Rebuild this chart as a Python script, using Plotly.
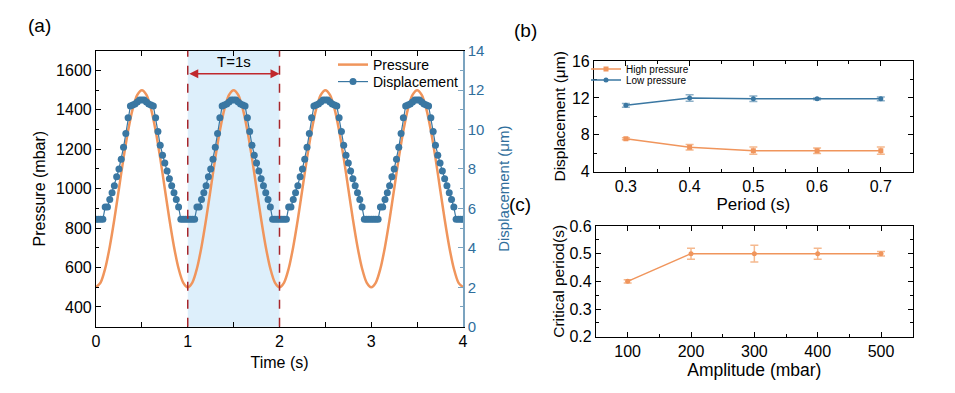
import plotly.graph_objects as go

# ---------------- data ----------------
# panel (a): pressure sampled every 0.05 s (smoothed by spline)
press_t = [round(0.05 * i, 2) for i in range(81)]
p_cycle1 = [500, 524, 595, 706, 845, 1000, 1155, 1294, 1405, 1476,
            1500, 1476, 1405, 1294, 1155, 1000, 845, 706, 595, 524]
p_cycle2 = [500, 524, 595, 706, 845, 1000, 1155, 1294, 1405, 1476,
            1500, 1476, 1405, 1294, 1155, 1000, 845, 706, 595, 524]
p_cycle3 = [500, 524, 595, 706, 845, 1000, 1155, 1294, 1405, 1476,
            1500, 1476, 1405, 1294, 1155, 1000, 845, 706, 595, 524]
p_cycle4 = [500, 524, 595, 706, 845, 1000, 1155, 1294, 1405, 1476,
            1500, 1476, 1405, 1294, 1155, 1000, 845, 706, 595, 524]
p_end = [500]
pressure = p_cycle1 + p_cycle2 + p_cycle3 + p_cycle4 + p_end

# panel (a): displacement sampled every 0.025 s
disp_t = [round(0.025 * i, 3) for i in range(161)]
disp_c1 = [5.45, 5.45, 5.45, 5.45, 6.07, 6.07, 6.45, 6.8, 7.15, 7.6,
           8.0, 8.5, 9.1, 9.8, 10.6, 11.2, 11.25, 11.3, 11.4, 11.5,
           11.5, 11.5, 11.4, 11.3, 11.25, 11.2, 10.6, 9.9, 9.2, 8.7,
           8.3, 7.9, 7.5, 7.15, 6.8, 6.45, 6.07, 5.45, 5.45, 5.45]
disp_c2 = [5.45, 5.45, 5.45, 5.45, 6.07, 6.07, 6.45, 6.8, 7.15, 7.6,
           8.0, 8.5, 9.1, 9.8, 10.6, 11.2, 11.25, 11.3, 11.4, 11.5,
           11.5, 11.5, 11.4, 11.3, 11.25, 11.2, 10.6, 9.9, 9.2, 8.7,
           8.3, 7.9, 7.5, 7.15, 6.8, 6.45, 6.07, 5.45, 5.45, 5.45]
disp_c3 = [5.45, 5.45, 5.45, 5.45, 6.07, 6.07, 6.45, 6.8, 7.15, 7.6,
           8.0, 8.5, 9.1, 9.8, 10.6, 11.2, 11.25, 11.3, 11.4, 11.5,
           11.5, 11.5, 11.4, 11.3, 11.25, 11.2, 10.6, 9.9, 9.2, 8.7,
           8.3, 7.9, 7.5, 7.15, 6.8, 6.45, 6.07, 5.45, 5.45, 5.45]
disp_c4 = [5.45, 5.45, 5.45, 5.45, 6.07, 6.07, 6.45, 6.8, 7.15, 7.6,
           8.0, 8.5, 9.1, 9.8, 10.6, 11.2, 11.25, 11.3, 11.4, 11.5,
           11.5, 11.5, 11.4, 11.3, 11.25, 11.2, 10.6, 9.9, 9.2, 8.7,
           8.3, 7.9, 7.5, 7.15, 6.8, 6.45, 6.07, 5.45, 5.45, 5.45]
disp_end = [5.45]
displacement = disp_c1 + disp_c2 + disp_c3 + disp_c4 + disp_end

# panel (b)
period = [0.3, 0.4, 0.5, 0.6, 0.7]
high_p = [7.57, 6.64, 6.28, 6.28, 6.28]
high_err = [0.1, 0.3, 0.4, 0.3, 0.4]
low_p = [11.2, 12.0, 11.9, 11.9, 11.9]
low_err = [0.2, 0.35, 0.3, 0.1, 0.2]

# panel (c)
amplitude = [100, 200, 300, 400, 500]
crit_period = [0.4, 0.5, 0.5, 0.5, 0.5]
crit_err = [0.006, 0.02, 0.03, 0.02, 0.008]

# ---------------- style ----------------
FONT = "Arial, Liberation Sans, sans-serif"
ORANGE = "#F0955C"
ORANGE_L = "#F5B98F"
BLUE = "#3A77A2"
BLUE_AX = "#2F6E9C"
BLUE_LINE = "#7BA3BF"
DARKRED = "#A8262B"
W, H = 955, 393

fig = go.Figure()

fig.add_trace(go.Scatter(x=press_t, y=pressure, mode="lines", name="Pressure",
                         line=dict(color=ORANGE, width=2.5, shape="spline", smoothing=0.8),
                         xaxis="x", yaxis="y", legend="legend"))
fig.add_trace(go.Scatter(x=disp_t, y=displacement, mode="lines+markers", name="Displacement",
                         line=dict(color=BLUE, width=1.2),
                         marker=dict(color=BLUE, size=7),
                         xaxis="x", yaxis="y2", legend="legend2"))

fig.add_trace(go.Scatter(x=period, y=high_p, mode="lines+markers", name="High pressure",
                         line=dict(color=ORANGE, width=1.5),
                         marker=dict(color=ORANGE, size=5, symbol="square"),
                         error_y=dict(type="data", array=high_err, color=ORANGE_L, thickness=1.5, width=4),
                         xaxis="x3", yaxis="y3", legend="legend3"))
fig.add_trace(go.Scatter(x=period, y=low_p, mode="lines+markers", name="Low pressure",
                         line=dict(color=BLUE, width=1.5),
                         marker=dict(color=BLUE, size=5, symbol="circle"),
                         error_y=dict(type="data", array=low_err, color="#8DB0C8", thickness=1.5, width=4),
                         xaxis="x3", yaxis="y3", legend="legend4"))

fig.add_trace(go.Scatter(x=amplitude, y=crit_period, mode="lines+markers", name="Critical",
                         line=dict(color=ORANGE, width=1.5),
                         marker=dict(color=ORANGE, size=5),
                         error_y=dict(type="data", array=crit_err, color=ORANGE_L, thickness=1.5, width=4),
                         xaxis="x4", yaxis="y4", showlegend=False))

def ax(size=16, **kw):
    d = dict(showgrid=False, zeroline=False, showline=True, linecolor="black",
             linewidth=1.2, ticks="inside", ticklen=5, tickcolor="black", automargin=False,
             tickfont=dict(family=FONT, size=size, color="black"))
    d.update(kw)
    return d

def minor(dt):
    return dict(dtick=dt, ticks="inside", ticklen=3, tickcolor="black")

def leg(px, py, size):
    return dict(x=px / W, y=1 - py / H, xanchor="left", yanchor="middle",
                bgcolor="rgba(0,0,0,0)", font=dict(family=FONT, size=size, color="black"),
                itemwidth=30, tracegroupgap=0)

fig.update_layout(
    width=W, height=H, autosize=False,
    margin=dict(l=0, r=0, t=0, b=0),
    paper_bgcolor="white", plot_bgcolor="white",
    font=dict(family=FONT, color="black"),
    xaxis=ax(domain=[96 / W, 463 / W], range=[0, 4], dtick=1, mirror="allticks", anchor="y",
             minor=minor(0.5),
             title=dict(text="Time (s)", font=dict(size=16), standoff=7)),
    yaxis=ax(domain=[1 - 326.7 / H, 1 - 50.7 / H], range=[300, 1700], dtick=200, anchor="x",
             minor=minor(100),
             title=dict(text="Pressure (mbar)", font=dict(size=16), standoff=6)),
    yaxis2=dict(showgrid=False, zeroline=False, showline=True, linecolor=BLUE_LINE, linewidth=1.5,
                ticks="inside", ticklen=5, tickcolor=BLUE_LINE, automargin=False,
                tickfont=dict(family=FONT, size=15, color=BLUE_AX),
                overlaying="y", side="right", anchor="x", range=[0, 14], dtick=2,
                minor=dict(dtick=1, ticks="inside", ticklen=3, tickcolor=BLUE_LINE),
                title=dict(text="Displacement (μm)", font=dict(size=15, color=BLUE_AX), standoff=15)),
    xaxis3=ax(domain=[594 / W, 912.7 / W], range=[0.25, 0.75], dtick=0.1,
              tickformat=".1f", mirror="allticks", anchor="y3", minor=minor(0.05),
              title=dict(text="Period (s)", font=dict(size=17), standoff=2)),
    yaxis3=ax(domain=[1 - 171.7 / H, 1 - 61 / H], range=[4, 16], dtick=4,
              mirror="allticks", anchor="x3", minor=minor(2),
              title=dict(text="Displacement (μm)", font=dict(size=15.5), standoff=2)),
    xaxis4=ax(domain=[596 / W, 912.7 / W], range=[50, 550], dtick=100,
              mirror="allticks", anchor="y4", minor=minor(50),
              title=dict(text="Amplitude (mbar)", font=dict(size=17.5), standoff=2)),
    yaxis4=ax(domain=[1 - 336.7 / H, 1 - 226 / H], range=[0.2, 0.6], dtick=0.1,
              tickformat=".1f", mirror="allticks", anchor="x4", minor=minor(0.05),
              title=dict(text="Critical period(s)", font=dict(size=15.5), standoff=1)),
    legend=leg(333, 65, 14),
    legend2=leg(333, 82, 14),
    legend3=leg(586, 69, 10),
    legend4=leg(586, 80, 10),
)

# shaded period region and dashed markers
fig.add_shape(type="rect", xref="x", yref="y domain", x0=1, x1=2, y0=0, y1=1,
              fillcolor="#DDEFFB", line=dict(width=0), layer="below")
for xv in [1, 2]:
    fig.add_shape(type="line", xref="x", yref="y domain", x0=xv, x1=xv, y0=0, y1=1,
                  line=dict(color=DARKRED, width=1.5, dash="dash"), layer="above")

fig.add_annotation(x=2, y=1583, ax=1, ay=1583, xref="x", yref="y", axref="x", ayref="y",
                   text="", showarrow=True, arrowside="end+start", arrowhead=2, arrowsize=1.2,
                   arrowwidth=1.5, arrowcolor="#C0282D")
fig.add_annotation(x=1.5, y=1645, xref="x", yref="y", text="T=1s", showarrow=False,
                   font=dict(family=FONT, size=15, color="black"))

# panel labels
for txt, px, py in [("(a)", 26, 13), ("(b)", 525, 18), ("(c)", 520, 204)]:
    fig.add_annotation(x=px / W, y=1 - py / H, xref="paper", yref="paper", text=txt,
                       showarrow=False, font=dict(family=FONT, size=19, color="black"))

fig.write_html("out.html", config={"displayModeBar": False},
               post_script="document.body.style.margin='0px';document.body.style.overflow='hidden';")
